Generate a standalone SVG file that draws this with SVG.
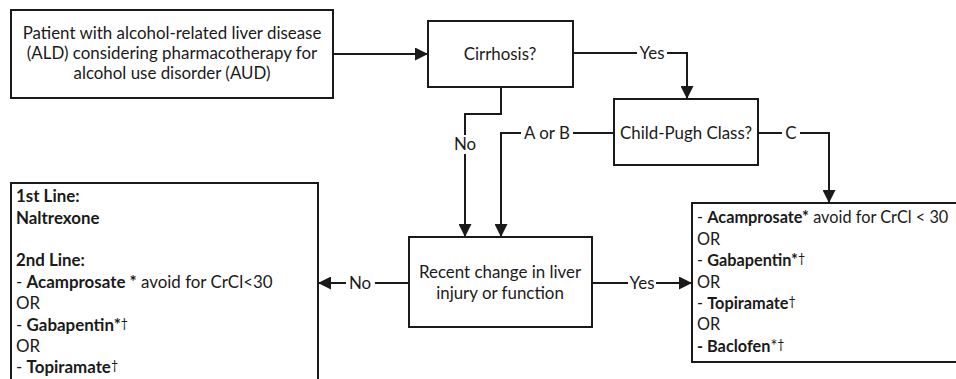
<svg xmlns="http://www.w3.org/2000/svg" width="956" height="379" viewBox="0 0 956 379">
<style>
.box{fill:#fff;stroke:#1a1a1a;stroke-width:2}
.t{font-family:Lato,"Liberation Sans",sans-serif;font-size:16.9px;fill:#1a1a1a}
.c{text-anchor:middle}
.b{font-weight:bold}
.lbl{font-family:Lato,"Liberation Sans",sans-serif;font-size:16.9px;fill:#1a1a1a;text-anchor:middle}
.ln{fill:none;stroke:#1a1a1a;stroke-width:2}
.sup{font-size:12.5px}
#change .t{font-size:16.3px}
</style>
<defs>
<marker id="ah" viewBox="0 0 13 13" refX="13" refY="6.5" markerWidth="13" markerHeight="13" markerUnits="userSpaceOnUse" orient="auto">
<path d="M0,0 L13,6.5 L0,13 z" fill="#1a1a1a"/>
</marker>
</defs>
<rect width="956" height="379" fill="#fff"/>
<g id="connectors">
<path class="ln" d="M333,54 H428" marker-end="url(#ah)"/>
<path class="ln" d="M573,53 H637"/>
<path class="ln" d="M667,53 H687 V99" marker-end="url(#ah)"/>
<path class="ln" d="M501,87 V114 H465 V135"/>
<path class="ln" d="M465,154 V237" marker-end="url(#ah)"/>
<path class="ln" d="M614,133 H573"/>
<path class="ln" d="M521,133 H501 V237" marker-end="url(#ah)"/>
<path class="ln" d="M758,133 H782"/>
<path class="ln" d="M800,133 H829 V203" marker-end="url(#ah)"/>
<path class="ln" d="M409,283 H375"/>
<path class="ln" d="M346,283 H318" marker-end="url(#ah)"/>
<path class="ln" d="M592,283 H628"/>
<path class="ln" d="M656,283 H692" marker-end="url(#ah)"/>
<text class="lbl" x="652" y="59">Yes</text>
<text class="lbl" x="465" y="150">No</text>
<text class="lbl" x="547" y="139">A or B</text>
<text class="lbl" x="791" y="139">C</text>
<text class="lbl" x="360" y="289">No</text>
<text class="lbl" x="642" y="289">Yes</text>
</g>
<g id="start">
<rect class="box" x="11" y="10" width="322" height="88"/>
<text class="t c" x="172" y="39">Patient with alcohol-related liver disease</text>
<text class="t c" x="172" y="59">(ALD) considering pharmacotherapy for</text>
<text class="t c" x="172" y="79">alcohol use disorder (AUD)</text>
</g>
<g id="cirrhosis">
<rect class="box" x="428" y="21" width="145" height="66"/>
<text class="t c" x="500" y="60">Cirrhosis?</text>
</g>
<g id="childpugh">
<rect class="box" x="614" y="99" width="144" height="66"/>
<text class="t c" x="686" y="139">Child-Pugh Class?</text>
</g>
<g id="recent">
<rect class="box" x="409" y="237" width="183" height="90"/>
<text class="t c" x="500" y="278">Recent change in liver</text>
<text class="t c" x="500" y="299">injury or function</text>
</g>
<g id="nochange">
<rect class="box" x="11" y="183" width="307" height="210"/>
<text class="t b" x="16" y="202">1st Line:</text>
<text class="t b" x="16" y="224">Naltrexone</text>
<text class="t b" x="16" y="266">2nd Line:</text>
<text class="t" x="16" y="288">- <tspan class="b">Acamprosate *</tspan> avoid for CrCl&lt;30</text>
<text class="t" x="16" y="309">OR</text>
<text class="t" x="16" y="331">- <tspan class="b">Gabapentin*</tspan><tspan class="sup" dy="-3">†</tspan></text>
<text class="t" x="16" y="352">OR</text>
<text class="t" x="16" y="373">- <tspan class="b">Topiramate</tspan><tspan class="sup" dy="-3">†</tspan></text>
</g>
<g id="change">
<rect class="box" x="692" y="203" width="270" height="159"/>
<text class="t" x="697" y="223">- <tspan class="b">Acamprosate*</tspan> avoid for CrCl &lt; 30</text>
<text class="t" x="697" y="245">OR</text>
<text class="t" x="697" y="266">- <tspan class="b">Gabapentin*</tspan><tspan class="sup" dy="-3">†</tspan></text>
<text class="t" x="697" y="288">OR</text>
<text class="t" x="697" y="309">- <tspan class="b">Topiramate</tspan><tspan class="sup" dy="-3">†</tspan></text>
<text class="t" x="697" y="330">OR</text>
<text class="t" x="697" y="352"><tspan class="b">- Baclofen</tspan>*<tspan class="sup" dy="-3">†</tspan></text>
</g>
</svg>
